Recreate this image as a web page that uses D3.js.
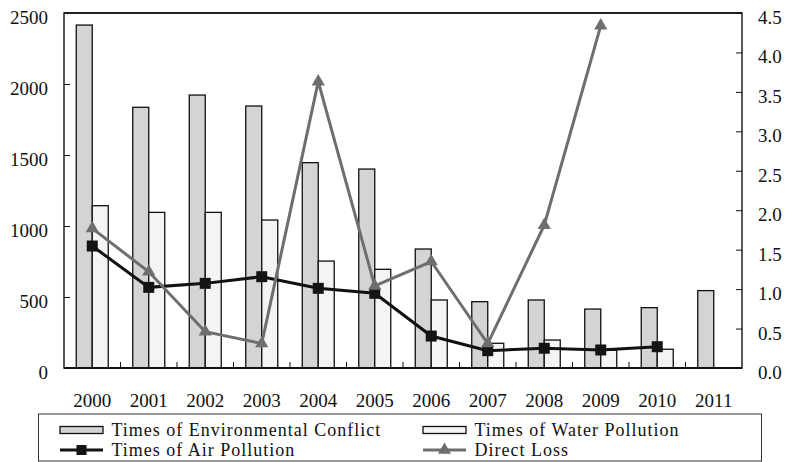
<!DOCTYPE html>
<head>
  <meta charset="utf-8">
  <script src="https://d3js.org/d3.v7.min.js"></script>
  <style>
    body { margin:0; background:#fff; }
    svg { display:block; }
    text { font-family: "Liberation Serif", "Times New Roman", serif; fill:#111; }
  </style>
</head>
<body>
<script>
var years = ["2000","2001","2002","2003","2004","2005","2006","2007","2008","2009","2010","2011"];
var conflict = [2415, 1836, 1922, 1845, 1446, 1401, 838, 467, 479, 415, 425, 545];
var water = [1143, 1096, 1096, 1042, 753, 695, 479, 174, 197, 125, 132, null];
var air = [859, 568, 596, 643, 561, 526, 225, 122, 139, 127, 150, null];
var loss = [1.77, 1.22, 0.46, 0.31, 3.63, 1.04, 1.35, 0.31, 1.81, 4.34, null, null];
var leftTicks = [0, 500, 1000, 1500, 2000, 2500];
var rightTicks = [0, 0.5, 1, 1.5, 2, 2.5, 3, 3.5, 4, 4.5];

var W = 785, H = 462;
var mLeft = 64, mRight = 742, mTop = 13, mBottom = 368;

var svg = d3.select("body").append("svg").attr("width", W).attr("height", H);

var x = d3.scaleBand().domain(years).range([mLeft, mRight]).padding(0);
var xs = d3.scaleBand().domain(["c","w"]).range([0, 32]);
var yL = d3.scaleLinear().domain([0, 2500]).range([mBottom, mTop]);
var yR = d3.scaleLinear().domain([0, 4.5]).range([mBottom, mTop]);
var off = (x.bandwidth() - 32) / 2;

// bars
var g = svg.append("g");
years.forEach(function(yr, i) {
  g.append("rect")
    .attr("x", x(yr) + off + xs("c")).attr("width", xs.bandwidth())
    .attr("y", yL(conflict[i])).attr("height", mBottom - yL(conflict[i]))
    .attr("fill", "#d4d4d4").attr("stroke", "#111").attr("stroke-width", 1.3);
  if (water[i] != null) {
    g.append("rect")
      .attr("x", x(yr) + off + xs("w")).attr("width", xs.bandwidth())
      .attr("y", yL(water[i])).attr("height", mBottom - yL(water[i]))
      .attr("fill", "#f4f4f4").attr("stroke", "#111").attr("stroke-width", 1.3);
  }
});

// frame and axes
svg.append("rect").attr("x", mLeft).attr("y", mTop).attr("width", mRight - mLeft).attr("height", mBottom - mTop)
  .attr("fill", "none").attr("stroke", "#222").attr("stroke-width", 1.5);
svg.append("line").attr("x1", mLeft).attr("x2", mRight).attr("y1", mTop).attr("y2", mTop)
  .attr("stroke", "#222").attr("stroke-width", 2);
svg.append("line").attr("x1", mLeft).attr("x2", mRight).attr("y1", mBottom).attr("y2", mBottom)
  .attr("stroke", "#111").attr("stroke-width", 2);

var axL = svg.append("g").attr("transform", "translate(" + mLeft + ",0)")
  .call(d3.axisRight(yL).tickValues(leftTicks).tickSize(6).tickFormat(d3.format("d")));
axL.selectAll("text").attr("x", -16).attr("dy", "0.55em").attr("text-anchor", "end").style("font-size", "19px");

var axR = svg.append("g").attr("transform", "translate(" + mRight + ",0)")
  .call(d3.axisLeft(yR).tickValues(rightTicks).tickSize(6).tickFormat(d3.format(".1f")));
axR.selectAll("text").attr("x", 16).attr("dy", "0.55em").attr("text-anchor", "start").style("font-size", "19px");

var axB = svg.append("g").attr("transform", "translate(0," + mBottom + ")")
  .call(d3.axisTop(x).tickSize(0));
axB.selectAll("text").attr("y", 39).attr("dy", 0).style("font-size", "19px");
// band boundary ticks
svg.append("g").selectAll("line").data(years.slice(1)).join("line")
  .attr("x1", function(d) { return x(d); }).attr("x2", function(d) { return x(d); })
  .attr("y1", mBottom).attr("y2", mBottom - 6).attr("stroke", "#111").attr("stroke-width", 1);

[axL, axR, axB].forEach(function(a) {
  a.select(".domain").remove();
  a.selectAll("line").attr("stroke", "#111").attr("stroke-width", 1);
  a.selectAll("text").attr("fill", "#111").style("font-family", "Liberation Serif, serif");
});

// lines
var cx = function(i) { return x(years[i]) + x.bandwidth() / 2; };
var airPts = air.map(function(v, i) { return v == null ? null : [cx(i), yL(v)]; }).filter(Boolean);
var lossPts = loss.map(function(v, i) { return v == null ? null : [cx(i), yR(v)]; }).filter(Boolean);
var line = d3.line();

svg.append("path").attr("d", line(airPts)).attr("fill", "none").attr("stroke", "#111").attr("stroke-width", 3);
svg.append("g").selectAll("rect").data(airPts).join("rect")
  .attr("x", function(d) { return d[0] - 5.5; }).attr("y", function(d) { return d[1] - 5.5; })
  .attr("width", 11).attr("height", 11).attr("fill", "#141414");

var tri = d3.symbol().type(d3.symbolTriangle).size(75);
svg.append("path").attr("d", line(lossPts)).attr("fill", "none").attr("stroke", "#6e6e6e").attr("stroke-width", 3);
svg.append("g").selectAll("path").data(lossPts).join("path")
  .attr("d", tri).attr("transform", function(d) { return "translate(" + d[0] + "," + d[1] + ")"; })
  .attr("fill", "#6e6e6e");

// legend
var lg = svg.append("g");
lg.append("rect").attr("x", 38.5).attr("y", 414).attr("width", 723).attr("height", 47)
  .attr("fill", "#fff").attr("stroke", "#333").attr("stroke-width", 1);
var legendItems = [
  { name: "Times of Environmental Conflict", kind: "bar", fill: "#d4d4d4", lx: 60, ly: 430 },
  { name: "Times of Water Pollution", kind: "bar", fill: "#f4f4f4", lx: 423, ly: 430 },
  { name: "Times of Air Pollution", kind: "sq", color: "#111", lx: 60, ly: 450 },
  { name: "Direct Loss", kind: "tri", color: "#6e6e6e", lx: 423, ly: 450 }
];
legendItems.forEach(function(d) {
  if (d.kind === "bar") {
    lg.append("rect").attr("x", d.lx).attr("y", d.ly - 3.5).attr("width", 43).attr("height", 7)
      .attr("fill", d.fill).attr("stroke", "#111").attr("stroke-width", 1.3);
  } else {
    lg.append("line").attr("x1", d.lx).attr("x2", d.lx + 43).attr("y1", d.ly).attr("y2", d.ly)
      .attr("stroke", d.color).attr("stroke-width", 3);
    if (d.kind === "sq") {
      lg.append("rect").attr("x", d.lx + 16.5).attr("y", d.ly - 5).attr("width", 10).attr("height", 10).attr("fill", "#141414");
    } else {
      lg.append("path").attr("d", tri).attr("transform", "translate(" + (d.lx + 21.5) + "," + d.ly + ")").attr("fill", d.color);
    }
  }
  lg.append("text").attr("x", d.lx + 51.5).attr("y", d.ly + 5.5)
    .style("font-size", "18px").style("letter-spacing", "1px").text(d.name);
});
</script>
</body>
